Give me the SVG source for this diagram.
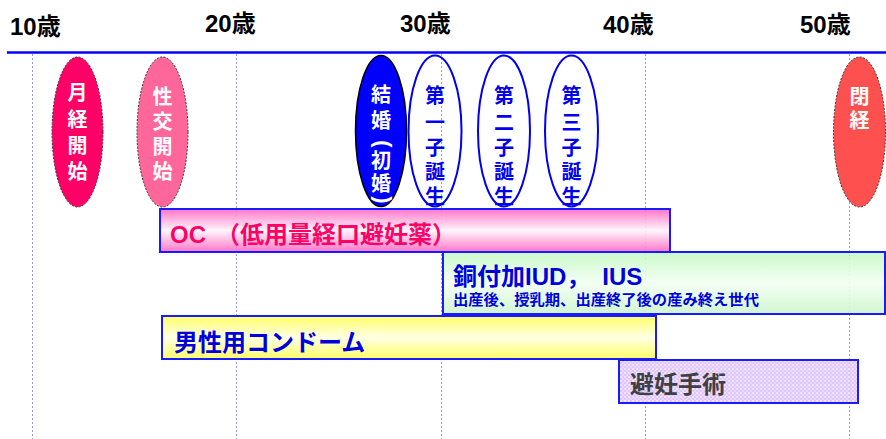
<svg xmlns="http://www.w3.org/2000/svg" width="886" height="439" viewBox="0 0 886 439">
<style>
.age{font-family:"Liberation Sans","Noto Sans CJK JP",sans-serif;font-weight:bold;font-size:24px;fill:#000}
.grid{stroke:#9a9af0;stroke-width:1;stroke-dasharray:2 2;fill:none}
.v{font-family:"Noto Sans CJK JP",sans-serif;font-weight:bold;font-size:20px;text-anchor:middle}
.p{font-family:"Liberation Sans",sans-serif;font-weight:bold;font-size:22px;text-anchor:middle}
.w{fill:#fff}
.b{fill:#0000ee}
.dash{stroke:#333;stroke-width:1;stroke-dasharray:2 1.5}
.bar{stroke:#1a1aff;stroke-width:2}
.bt{font-family:"Liberation Sans","Noto Sans CJK JP",sans-serif;font-weight:bold;font-size:24px}
</style>
<defs>
<linearGradient id="gPink" x1="0" y1="0" x2="0" y2="1">
<stop offset="0" stop-color="#ff66c4"/><stop offset="0.5" stop-color="#fff4fa"/><stop offset="1" stop-color="#ff66c4"/>
</linearGradient>
<linearGradient id="gGreen" x1="0" y1="0" x2="0" y2="1">
<stop offset="0" stop-color="#c6f9c6"/><stop offset="0.5" stop-color="#f2fff2"/><stop offset="1" stop-color="#cdf5cd"/>
</linearGradient>
<linearGradient id="gYellow" x1="0" y1="0" x2="0" y2="1">
<stop offset="0" stop-color="#ffff66"/><stop offset="0.5" stop-color="#ffffe6"/><stop offset="1" stop-color="#ffff66"/>
</linearGradient>
<pattern id="pLav" width="4" height="4" patternUnits="userSpaceOnUse">
<rect width="4" height="4" fill="#dcc0fb"/>
<rect x="0" y="0" width="2" height="2" fill="#eee0ff"/>
<rect x="2" y="2" width="2" height="2" fill="#e8d4ff"/>
</pattern>
</defs>
<rect width="886" height="439" fill="#fff"/>

<g id="axis">
<line x1="7" y1="52.5" x2="886" y2="52.5" stroke="#0000ff" stroke-width="2.5"/>
<text class="age" x="10" y="35">10歳</text>
<text class="age" x="205" y="32">20歳</text>
<text class="age" x="400" y="32">30歳</text>
<text class="age" x="603" y="33">40歳</text>
<text class="age" x="800" y="33">50歳</text>
</g>

<g id="grid">
<line class="grid" x1="32.5" y1="54" x2="32.5" y2="439"/>
<line class="grid" x1="236.5" y1="54" x2="236.5" y2="439"/>
<line class="grid" x1="441.5" y1="54" x2="441.5" y2="439"/>
<line class="grid" x1="645.5" y1="54" x2="645.5" y2="439"/>
<line class="grid" x1="849.5" y1="54" x2="849.5" y2="439"/>
</g>

<g id="menarche">
<ellipse cx="77.5" cy="132" rx="25.5" ry="75" fill="#ff0066" class="dash"/>
<text class="v w"><tspan x="77.5" y="100">月</tspan><tspan x="77.5" y="127">経</tspan><tspan x="77.5" y="153">開</tspan><tspan x="77.5" y="179">始</tspan></text>
</g>

<g id="sexual-debut">
<ellipse cx="162.5" cy="132" rx="25.5" ry="75" fill="#ff6699" class="dash"/>
<text class="v w"><tspan x="162.5" y="104">性</tspan><tspan x="162.5" y="129">交</tspan><tspan x="162.5" y="154">開</tspan><tspan x="162.5" y="179">始</tspan></text>
</g>

<g id="marriage">
<ellipse cx="381" cy="131" rx="25.5" ry="75.5" fill="#0000ff" stroke="#000" stroke-width="1.5"/>
<text class="v w"><tspan x="381" y="102">結</tspan><tspan x="381" y="128">婚</tspan><tspan x="381" y="168">初</tspan><tspan x="381" y="191">婚</tspan></text>
<text class="p w" x="381" y="149.5" transform="rotate(90 381 144)">(</text>
<text class="p w" x="381" y="205.5" transform="rotate(90 381 200)">)</text>
</g>

<g id="first-child">
<ellipse cx="435" cy="131" rx="26.5" ry="75.5" fill="none" stroke="#0000ee" stroke-width="2"/>
<text class="v b"><tspan x="435" y="103">第</tspan><tspan x="435" y="130">一</tspan><tspan x="435" y="155">子</tspan><tspan x="435" y="179">誕</tspan><tspan x="435" y="204">生</tspan></text>
</g>

<g id="second-child">
<ellipse cx="504" cy="131" rx="26" ry="75.5" fill="none" stroke="#0000ee" stroke-width="2"/>
<text class="v b"><tspan x="504" y="103">第</tspan><tspan x="504" y="130">二</tspan><tspan x="504" y="155">子</tspan><tspan x="504" y="179">誕</tspan><tspan x="504" y="204">生</tspan></text>
</g>

<g id="third-child">
<ellipse cx="571.5" cy="131" rx="26.5" ry="75.5" fill="none" stroke="#0000ee" stroke-width="2"/>
<text class="v b"><tspan x="571.5" y="103">第</tspan><tspan x="571.5" y="130">三</tspan><tspan x="571.5" y="155">子</tspan><tspan x="571.5" y="179">誕</tspan><tspan x="571.5" y="204">生</tspan></text>
</g>

<g id="menopause">
<ellipse cx="859.5" cy="132" rx="26" ry="75" fill="#ff5050" class="dash"/>
<text class="v w"><tspan x="859.5" y="104">閉</tspan><tspan x="859.5" y="128">経</tspan></text>
</g>

<g id="oc">
<rect x="160" y="209" width="510" height="43" fill="url(#gPink)" fill-opacity="0.9" class="bar"/>
<text class="bt" fill="#ff0066"><tspan x="170" y="243">OC</tspan><tspan x="216" y="243">（低用量経口避妊薬）</tspan></text>
</g>

<g id="iud">
<rect x="443" y="252" width="442" height="62" fill="url(#gGreen)" fill-opacity="0.9" class="bar"/>
<text class="bt" x="453" y="285" fill="#0000dd">銅付加IUD，　IUS</text>
<text x="453" y="305" fill="#0000dd" font-family="Noto Sans CJK JP, sans-serif" font-weight="bold" font-size="15.3">出産後、授乳期、出産終了後の産み終え世代</text>
</g>

<g id="condom">
<rect x="162" y="316" width="494" height="43" fill="url(#gYellow)" class="bar"/>
<text class="bt" x="174" y="351" fill="#0000dd">男性用コンドーム</text>
</g>

<g id="sterilization">
<rect x="619" y="360" width="239" height="43" fill="url(#pLav)" fill-opacity="0.9" class="bar"/>
<text class="bt" x="630" y="393" fill="#404040" font-size="26">避妊手術</text>
</g>
</svg>
